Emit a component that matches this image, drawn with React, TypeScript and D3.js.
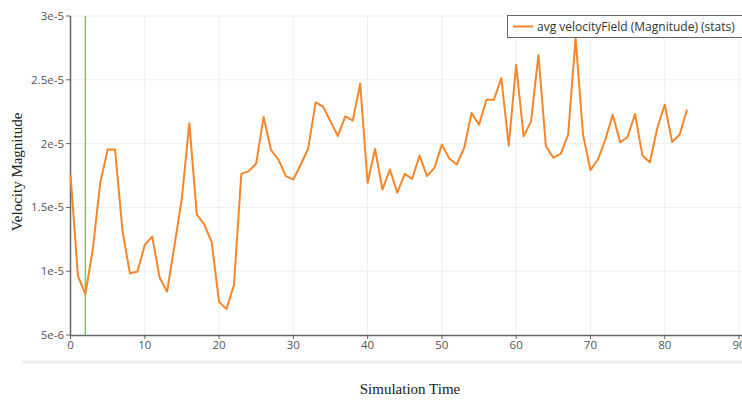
import React from "react";
import * as d3 from "d3";

const times: number[] = d3.range(0, 84);
const velocity: number[] = [
  1.758, 0.963, 0.82, 1.17, 1.69, 1.953, 1.953, 1.315, 0.984, 0.995,
  1.206, 1.271, 0.95, 0.84, 1.2, 1.576, 2.16, 1.445, 1.367, 1.23,
  0.76, 0.703, 0.89, 1.763, 1.784, 1.844, 2.209, 1.948, 1.875, 1.745,
  1.719, 1.836, 1.96, 2.323, 2.29, 2.174, 2.06, 2.213, 2.18, 2.469,
  1.693, 1.958, 1.64, 1.797, 1.615, 1.763, 1.724, 1.906, 1.745, 1.81,
  1.992, 1.883, 1.836, 1.966, 2.24, 2.148, 2.344, 2.344, 2.513, 1.984,
  2.617, 2.057, 2.174, 2.695, 1.979, 1.89, 1.92, 2.07, 2.826, 2.07,
  1.792, 1.875, 2.03, 2.227, 2.01, 2.052, 2.232, 1.906, 1.854, 2.122,
  2.305, 2.013, 2.07, 2.266,
].map((v) => v * 1e-5);
const xTicks: number[] = [0, 10, 20, 30, 40, 50, 60, 70, 80, 90];
const yTicks: number[] = [5e-6, 1e-5, 1.5e-5, 2e-5, 2.5e-5, 3e-5];
const yTickLabels: string[] = ["5e-6", "1e-5", "1.5e-5", "2e-5", "2.5e-5", "3e-5"];
const markerTime = 2;
const seriesName = "avg velocityField (Magnitude) (stats)";
const xLabel = "Simulation Time";
const yLabel = "Velocity Magnitude";

export default function App() {
  const W = 742, H = 401;
  const x = d3.scaleLinear().domain([0, 90]).range([70.5, 739]);
  const y = d3.scaleLinear().domain([5e-6, 3e-5]).range([335, 16]);
  const line = d3
    .line<number>()
    .x((_, i) => x(times[i]))
    .y((d) => y(d));
  const tickFont = "'Open Sans', 'DejaVu Sans', sans-serif";
  return (
    <svg
      width={W}
      height={H}
      style={{ position: "absolute", left: 0, top: 0, background: "#fff" }}
    >
      {/* grid */}
      {xTicks.slice(1).map((t) => (
        <line key={"gx" + t} x1={x(t)} x2={x(t)} y1={16} y2={335} stroke="#efefef" strokeWidth={1} />
      ))}
      {yTicks.slice(1).map((t) => (
        <line key={"gy" + t} x1={70.5} x2={W} y1={y(t)} y2={y(t)} stroke="#efefef" strokeWidth={1} />
      ))}
      {/* bottom band */}
      <line x1={22} x2={W} y1={362} y2={362} stroke="#eeeeee" strokeWidth={3} />
      {/* axes */}
      <line x1={70.5} x2={70.5} y1={16} y2={336} stroke="#666" strokeWidth={1.5} />
      <line x1={70} x2={W} y1={335.5} y2={335.5} stroke="#666" strokeWidth={1.5} />
      {xTicks.map((t) => (
        <g key={"xt" + t}>
          <line x1={x(t)} x2={x(t)} y1={335} y2={339} stroke="#666" strokeWidth={1} />
          <text x={x(t)} y={349} textAnchor="middle" fontFamily={tickFont} fontSize={11.5} fill="#555">
            {t}
          </text>
        </g>
      ))}
      {yTicks.map((t, i) => (
        <g key={"yt" + t}>
          <line x1={66} x2={70.5} y1={y(t)} y2={y(t)} stroke="#666" strokeWidth={1} />
          <text x={64} y={y(t) + 4} textAnchor="end" fontFamily={tickFont} fontSize={11.5} fill="#555">
            {yTickLabels[i]}
          </text>
        </g>
      ))}
      {/* marker line */}
      <line x1={x(markerTime)} x2={x(markerTime)} y1={16} y2={335} stroke="#72cf4a" strokeWidth={1.5} />
      {/* series */}
      <path d={line(velocity) || ""} fill="none" stroke="#f5862b" strokeWidth={2} strokeLinejoin="round" />
      {/* legend */}
      <rect x={507.5} y={15.5} width={250} height={22} fill="#fff" stroke="#666" strokeWidth={1} />
      <line x1={513} x2={533} y1={26.5} y2={26.5} stroke="#f5862b" strokeWidth={2} />
      <text x={537} y={30.5} fontFamily={tickFont} fontSize={12} fill="#333">
        {seriesName}
      </text>
      {/* axis labels */}
      <text x={410} y={394} textAnchor="middle" fontFamily="'Liberation Serif', serif" fontSize={15} fill="#222">
        {xLabel}
      </text>
      <text
        transform="translate(22,172) rotate(-90)"
        textAnchor="middle"
        fontFamily="'Liberation Serif', serif"
        fontSize={15}
        fill="#222"
      >
        {yLabel}
      </text>
    </svg>
  );
}
